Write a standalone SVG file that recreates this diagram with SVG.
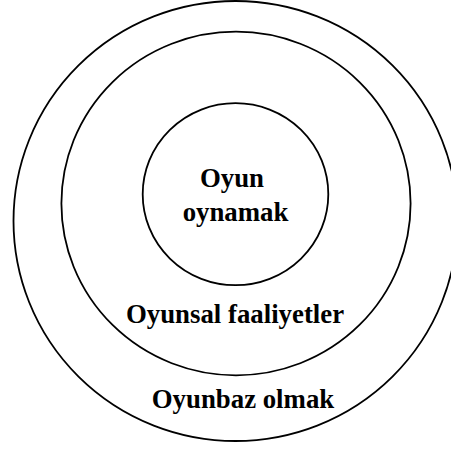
<svg xmlns="http://www.w3.org/2000/svg" width="451" height="450" viewBox="0 0 451 450">
<style>
.ring{fill:none;stroke:#000;stroke-width:1.8}
.lbl{font-family:"Liberation Serif","Times New Roman",serif;font-weight:bold;font-size:26.8px;fill:#000;text-anchor:middle}
</style>
<rect width="451" height="450" fill="#fff"/>
<g id="outer">
<ellipse class="ring" cx="235.5" cy="221" rx="222" ry="220"/>
<text class="lbl" x="243" y="408">Oyunbaz olmak</text>
</g>
<g id="middle">
<ellipse class="ring" cx="236" cy="203.5" rx="174.6" ry="171.8"/>
<text class="lbl" x="235" y="323">Oyunsal faaliyetler</text>
</g>
<g id="inner">
<ellipse class="ring" cx="235.5" cy="194.2" rx="92.8" ry="91"/>
<text class="lbl" x="232" y="187">Oyun</text>
<text class="lbl" x="235.5" y="220.5">oynamak</text>
</g>
<g id="connectors"></g>
</svg>
